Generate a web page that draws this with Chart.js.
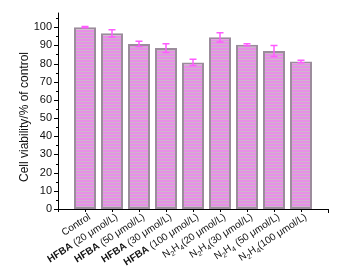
<!DOCTYPE html>
<html>
<head>
<meta charset="utf-8">
<script src="https://cdn.jsdelivr.net/npm/chart.js@4.4.0/dist/chart.umd.min.js"></script>
<style>
  html, body { margin: 0; padding: 0; background: #fff; }
  #wrap { width: 340px; height: 272px; }
</style>
</head>
<body>
<div id="wrap"><canvas id="viab"></canvas></div>
<script>
// categories as printed under the bars
const categories = [
  'Control',
  'HFBA (20 μmol/L)',
  'HFBA (50 μmol/L)',
  'HFBA (30 μmol/L)',
  'HFBA (100 μmol/L)',
  'N2H4(20 μmol/L)',
  'N2H4(30 μmol/L)',
  'N2H4 (50 μmol/L)',
  'N2H4(100 μmol/L)'
];
// cell viability, % of control
const viability = [100, 96.6, 90.8, 88.5, 80.6, 94.4, 90.3, 86.9, 81.1];
const errors = [0.3, 2.0, 1.4, 2.4, 1.7, 2.5, 0.6, 3.0, 0.7];
const yTicks = [0, 10, 20, 30, 40, 50, 60, 70, 80, 90, 100];

// striped fill like the scanned bars
function stripes() {
  const c = document.createElement('canvas');
  c.width = 4; c.height = 3;
  const g = c.getContext('2d');
  g.fillStyle = '#e88fe8';
  g.fillRect(0, 0, 4, 2);
  g.fillStyle = '#cdb4ca';
  g.fillRect(0, 2, 4, 1);
  return g.createPattern(c, 'repeat');
}

// one empty slot each side so bars sit at 1..9 of a 0..10 axis
const labels = [''].concat(categories, ['']);
const values = [null].concat(viability, [null]);
const errs = [null].concat(errors, [null]);

const FONT = '"Liberation Sans", Arial, sans-serif';

// split a label into plain / bold / subscript pieces
function pieces(s) {
  if (s.startsWith('HFBA')) return [{t: 'HFBA', b: true}, {t: s.slice(4)}];
  if (s.startsWith('N2H4')) return [{t: 'N'}, {t: '2', sub: true}, {t: 'H'}, {t: '4', sub: true}, {t: s.slice(4)}];
  return [{t: s}];
}

const axesPlugin = {
  id: 'axesDeco',
  afterDatasetsDraw(chart) {
    const ctx = chart.ctx;
    const x = chart.scales.x, y = chart.scales.y;
    const area = chart.chartArea;
    ctx.save();
    // error bars
    ctx.strokeStyle = '#ff5cff';
    ctx.lineWidth = 1.5;
    values.forEach((v, i) => {
      if (v == null) return;
      const px = x.getPixelForValue(i);
      const top = y.getPixelForValue(v + errs[i]);
      const bot = y.getPixelForValue(v - errs[i]);
      ctx.beginPath();
      ctx.moveTo(px, top); ctx.lineTo(px, bot);
      ctx.moveTo(px - 3.5, top); ctx.lineTo(px + 3.5, top);
      ctx.moveTo(px - 3.5, bot); ctx.lineTo(px + 3.5, bot);
      ctx.stroke();
    });
    // axis lines and tick marks
    ctx.strokeStyle = '#000';
    ctx.lineWidth = 1;
    ctx.beginPath();
    ctx.moveTo(area.left + 0.5, area.top);
    ctx.lineTo(area.left + 0.5, area.bottom + 3);
    ctx.moveTo(area.left, area.bottom + 0.5);
    ctx.lineTo(area.right, area.bottom + 0.5);
    for (let v = 0; v <= 105; v += 5) {
      const py = Math.round(y.getPixelForValue(v)) + 0.5;
      ctx.moveTo(area.left - (v % 10 === 0 ? 4 : 2), py);
      ctx.lineTo(area.left, py);
    }
    for (let i = 1; i < labels.length; i++) {
      const px = Math.round(x.getPixelForValue(i)) + 0.5;
      ctx.moveTo(px, area.bottom);
      ctx.lineTo(px, area.bottom + (i === labels.length - 1 ? 4 : 3));
    }
    ctx.stroke();

    // rotated category labels with bold / subscripts
    ctx.fillStyle = '#111';
    ctx.textBaseline = 'top';
    categories.forEach((lab, k) => {
      const parts = pieces(lab);
      let w = 0;
      parts.forEach(p => {
        ctx.font = (p.b ? 'bold ' : '') + (p.sub ? '7px ' : '10px ') + FONT;
        p.w = ctx.measureText(p.t).width;
        w += p.w;
      });
      const px = x.getPixelForValue(k + 1);
      ctx.save();
      ctx.translate(px + 2, area.bottom + 3);
      ctx.rotate(-33 * Math.PI / 180);
      let cx = -w;
      parts.forEach(p => {
        ctx.font = (p.b ? 'bold ' : '') + (p.sub ? '7px ' : '10px ') + FONT;
        ctx.fillText(p.t, cx, p.sub ? 5 : 0);
        cx += p.w;
      });
      ctx.restore();
    });

    // y title
    ctx.save();
    ctx.translate(25, 117);
    ctx.rotate(-Math.PI / 2);
    ctx.font = '12px ' + FONT;
    ctx.textAlign = 'center';
    ctx.textBaseline = 'middle';
    ctx.fillText('Cell viability/% of control', 0, 0);
    ctx.restore();
    ctx.restore();
  }
};

new Chart(document.getElementById('viab'), {
  type: 'bar',
  data: {
    labels: labels,
    datasets: [{
      data: values,
      backgroundColor: stripes(),
      borderColor: '#9c8c9c',
      borderWidth: 2,
      borderSkipped: false,
      categoryPercentage: 1,
      barPercentage: 0.815
    }]
  },
  options: {
    responsive: true,
    maintainAspectRatio: false,
    animation: false,
    layout: { padding: { top: 9, right: 12, left: 0, bottom: 0 } },
    plugins: { legend: { display: false }, tooltip: { enabled: false } },
    scales: {
      x: {
        offset: false,
        grid: { display: false },
        border: { display: false },
        ticks: { display: false },
        afterFit(s) { s.height = 63; }
      },
      y: {
        min: 0,
        max: 108,
        grid: { display: false, drawTicks: false },
        border: { display: false },
        afterBuildTicks(s) { s.ticks = yTicks.map(v => ({value: v})); },
        ticks: {
          padding: 6,
          color: '#111',
          font: { family: FONT, size: 11 }
        },
        afterFit(s) { s.width = 58; }
      }
    }
  },
  plugins: [axesPlugin]
});
</script>
</body>
</html>
